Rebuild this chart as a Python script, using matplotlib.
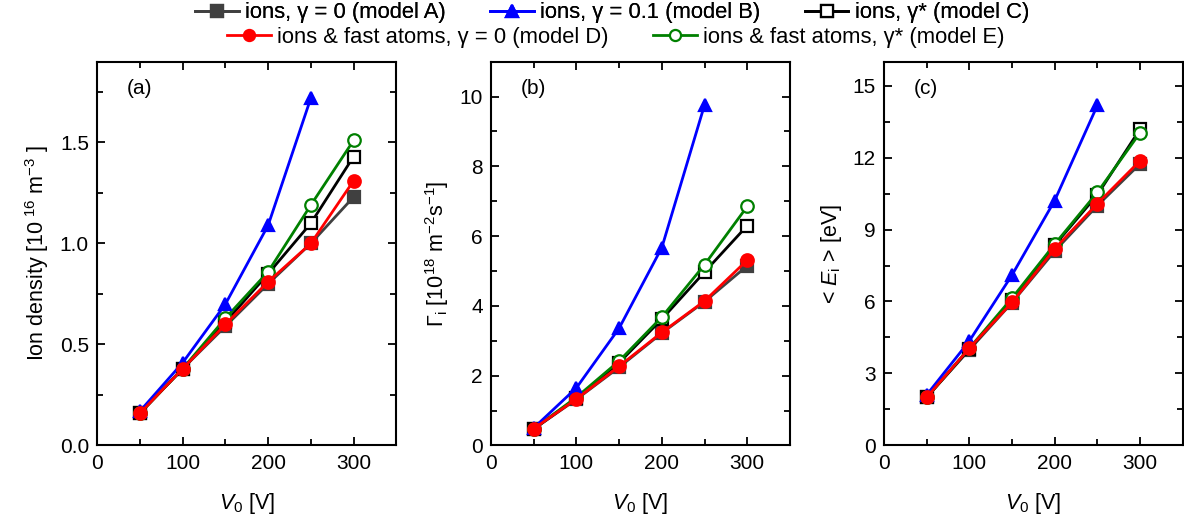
import matplotlib
matplotlib.use("Agg")
import matplotlib.pyplot as plt
from matplotlib.ticker import MultipleLocator, FormatStrFormatter
from matplotlib.lines import Line2D

plt.rcParams['font.family'] = ['Liberation Sans', 'DejaVu Sans']
plt.rcParams['mathtext.fontset'] = 'custom'
plt.rcParams['mathtext.rm'] = 'Liberation Sans'
plt.rcParams['mathtext.it'] = 'Liberation Sans:italic'

V0 = [50, 100, 150, 200, 250, 300]
V0_B = [50, 100, 150, 200, 250]

# panel (a): ion density [1e16 m^-3]
dens_A = [0.16, 0.38, 0.59, 0.80, 1.00, 1.23]
dens_B = [0.17, 0.41, 0.70, 1.09, 1.72]
dens_C = [0.16, 0.38, 0.61, 0.85, 1.10, 1.43]
dens_D = [0.16, 0.38, 0.60, 0.81, 1.00, 1.31]
dens_E = [0.16, 0.38, 0.63, 0.86, 1.19, 1.51]

# panel (b): flux [1e18 m^-2 s^-1]
flux_A = [0.47, 1.32, 2.24, 3.22, 4.12, 5.15]
flux_B = [0.50, 1.65, 3.36, 5.67, 9.76]
flux_C = [0.47, 1.35, 2.37, 3.62, 4.97, 6.30]
flux_D = [0.48, 1.33, 2.27, 3.24, 4.14, 5.31]
flux_E = [0.48, 1.38, 2.42, 3.68, 5.18, 6.85]

# panel (c): mean ion energy [eV]
en_A = [2.00, 3.98, 5.95, 8.10, 10.00, 11.74]
en_B = [2.10, 4.35, 7.10, 10.21, 14.18]
en_C = [2.00, 4.02, 6.05, 8.35, 10.45, 13.19]
en_D = [2.00, 4.05, 5.96, 8.20, 10.08, 11.87]
en_E = [2.00, 4.05, 6.14, 8.39, 10.55, 13.04]

labels = ["ions, γ = 0 (model A)",
          "ions, γ = 0.1 (model B)",
          "ions, γ* (model C)",
          "ions & fast atoms, γ = 0 (model D)",
          "ions & fast atoms, γ* (model E)"]

styles = {
    'A': dict(color='#404040', marker='s', mfc='#404040', mec='#404040'),
    'B': dict(color='#0000ff', marker='^', mfc='#0000ff', mec='#0000ff'),
    'C': dict(color='black', marker='s', mfc='white', mec='black'),
    'D': dict(color='#ff0000', marker='o', mfc='#ff0000', mec='#ff0000'),
    'E': dict(color='#008000', marker='o', mfc='white', mec='#008000'),
}

fig = plt.figure(figsize=(11.84, 5.29), dpi=100)
W = 0.2525
H = 0.7255
B0 = 0.158
lefts = [0.0822, 0.4147, 0.7465]
axes = [fig.add_axes([l, B0, W, H]) for l in lefts]

panels = [
    (dens_A, dens_B, dens_C, dens_D, dens_E, 1.9, 0.5, 0.25, '%.1f',
     "Ion density [10$^{\\ 16}$ m$^{-3}$ ]", "(a)"),
    (flux_A, flux_B, flux_C, flux_D, flux_E, 11.0, 2, 1, '%d',
     "$\\Gamma_{\\rm i}$ [10$^{18}$ m$^{-2}$s$^{-1}$]", "(b)"),
    (en_A, en_B, en_C, en_D, en_E, 16.0, 3, 1.5, '%d',
     "< $E_{\\rm i}$ > [eV]", "(c)"),
]

kw = dict(lw=2, ms=9, mew=1.6)
for ax, (A, Bv, C, D, E, ymax, maj, mnr, fmt, ylabel, tag) in zip(axes, panels):
    ax.plot(V0, A, **styles['A'], **kw, zorder=3)
    ax.plot(V0, C, **styles['C'], **kw, zorder=4)
    ax.plot(V0, E, **styles['E'], **kw, zorder=5)
    ax.plot(V0_B, Bv, **styles['B'], **kw, zorder=6)
    ax.plot(V0, D, **styles['D'], **kw, zorder=7)
    ax.set_xlim(0, 350)
    ax.set_ylim(0, ymax)
    ax.xaxis.set_major_locator(MultipleLocator(100))
    ax.xaxis.set_minor_locator(MultipleLocator(50))
    ax.yaxis.set_major_locator(MultipleLocator(maj))
    ax.yaxis.set_minor_locator(MultipleLocator(mnr))
    ax.yaxis.set_major_formatter(FormatStrFormatter(fmt))
    ax.tick_params(which='both', direction='in', top=True, right=True,
                   labelsize=15, width=1.3)
    ax.tick_params(which='major', length=6, pad=6)
    ax.tick_params(which='minor', length=4)
    for s in ax.spines.values():
        s.set_linewidth(1.5)
    ax.set_xlabel("$V_0$ [V]", fontsize=15.5, labelpad=13)
    ax.set_ylabel(ylabel, fontsize=15.5, labelpad=6)
    ax.text(0.1, 0.93, tag, transform=ax.transAxes, fontsize=15,
            ha='left', va='center')

handles = []
for k in ['A', 'B', 'C', 'D', 'E']:
    handles.append(Line2D([], [], **styles[k], lw=2, ms=8, mew=1.6))

leg1 = fig.legend(handles[:3], labels[:3], loc='center', ncol=3,
                  bbox_to_anchor=(0.517, 0.976), frameon=False, fontsize=15.8,
                  handlelength=2.0, handletextpad=0.3, columnspacing=2.0,
                  borderpad=0.1)
fig.add_artist(leg1)
fig.legend(handles[3:], labels[3:], loc='center', ncol=2,
           bbox_to_anchor=(0.52, 0.929), frameon=False, fontsize=15.8,
           handlelength=2.0, handletextpad=0.3, columnspacing=2.0,
           borderpad=0.1)

fig.savefig("out.png", dpi=100)
